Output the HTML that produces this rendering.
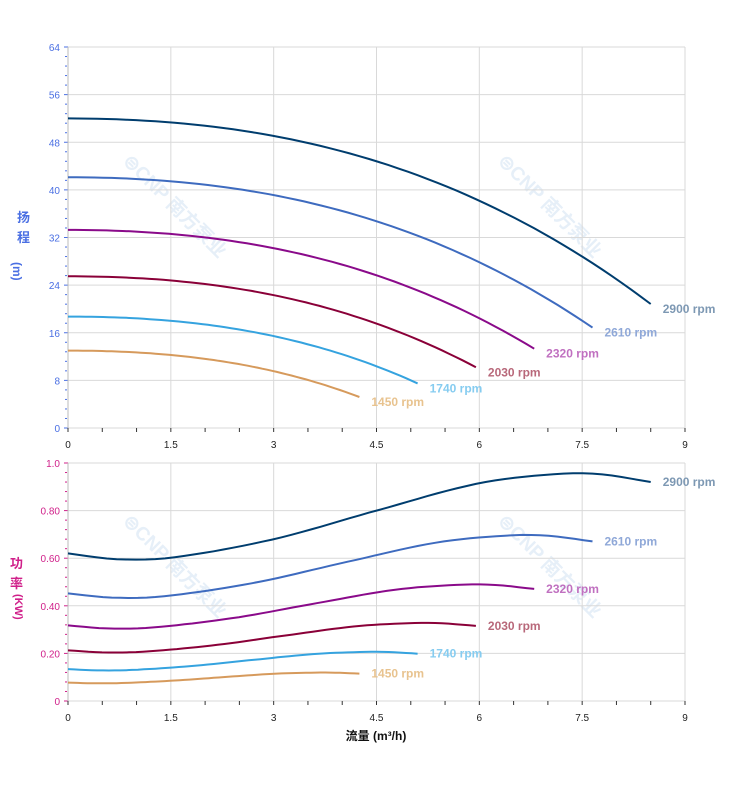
<!DOCTYPE html>
<html><head><meta charset="utf-8"><style>
html,body{margin:0;padding:0;background:#fff;width:752px;height:797px;overflow:hidden}
svg text{font-family:"Liberation Sans","Noto Sans CJK SC",sans-serif}
</style></head><body>
<svg id="s" width="752" height="797" xmlns="http://www.w3.org/2000/svg"></svg>
<script>
const s=document.getElementById('s');let h='';
const X0=68,X1=685,px=q=>X0+q*(X1-X0)/9;
const T0=428,T1=47,ty=v=>T0-v*(T0-T1)/64;
const B0=701,B1=463,by=v=>B0-v*(B0-B1)/1.0;
[[122,162],[497,162],[122,522],[497,522]].forEach(([x,y])=>{
h+=`<text x="${x}" y="${y}" transform="rotate(45 ${x} ${y})" font-size="19" font-weight="bold" fill="#e6eff8">⊜CNP 南方泵业</text>`;});
function grid(y0,y1,ys,yf,col,labs){
for(let i=0;i<=6;i++){let x=px(i*1.5);h+=`<line x1="${x}" y1="${y1}" x2="${x}" y2="${y0}" stroke="#d9d9d9"/>`;}
h+=`<line x1="${X1}" y1="${y1}" x2="${X1}" y2="${y0}" stroke="#d9d9d9"/>`;
ys.forEach((v,i)=>{let y=yf(v);h+=`<line x1="${X0}" y1="${y}" x2="${X1}" y2="${y}" stroke="#d9d9d9"/>`;
h+=`<line x1="${X0-4}" y1="${y}" x2="${X0}" y2="${y}" stroke="${col}"/>`;
h+=`<text x="${X0-8}" y="${y+4}" font-size="10" text-anchor="end" fill="${col}">${labs[i]}</text>`;
if(i<ys.length-1){let st=(ys[i+1]-v)/5;for(let k=1;k<5;k++){let yy=yf(v+st*k);h+=`<line x1="${X0-3}" y1="${yy}" x2="${X0-1}" y2="${yy}" stroke="${col}"/>`;}}});
h+=`<line x1="${X0}" y1="${y1}" x2="${X0}" y2="${y0}" stroke="#bbb"/>`;
for(let i=0;i<=18;i++){let x=px(i*0.5);h+=`<line x1="${x}" y1="${y0}" x2="${x}" y2="${y0+4}" stroke="#333"/>`;}
for(let i=0;i<=6;i++){let v=i*1.5;h+=`<text x="${px(v)}" y="${y0+20}" font-size="10" text-anchor="middle" fill="#222">${v}</text>`;}
}
grid(T0,T1,[0,8,16,24,32,40,48,56,64],ty,'#4a6fe3',[0,8,16,24,32,40,48,56,64]);
grid(B0,B1,[0,0.2,0.4,0.6,0.8,1.0],by,'#d0208a',['0','0.20','0.40','0.60','0.80','1.0']);
h+=`<text x="17" y="222" font-size="13" font-weight="bold" fill="#4a6fe3">扬</text><text x="17" y="242" font-size="13" font-weight="bold" fill="#4a6fe3">程</text><text x="17" y="266" font-size="12" font-weight="bold" fill="#4a6fe3" transform="rotate(90 17 262)">(m)</text>`;
h+=`<text x="10" y="568" font-size="13" font-weight="bold" fill="#d0208a">功</text><text x="10" y="588" font-size="13" font-weight="bold" fill="#d0208a">率</text><text x="11" y="598" font-size="11" font-weight="bold" fill="#d0208a" transform="rotate(90 15 598)">(KW)</text>`;
h+=`<text x="376" y="740" font-size="12" font-weight="bold" text-anchor="middle" fill="#111">流量 (m³/h)</text>`;
const H=q=>52-0.27*q*q-0.019*q*q*q;
const P=[[0,0.62],[0.7,0.596],[1.5,0.602],[3,0.68],[4.5,0.80],[6,0.915],[7.2,0.955],[7.8,0.952],[8.5,0.92]];
function Pf(q){for(let i=0;i<P.length-1;i++){if(q<=P[i+1][0]){let p0=P[Math.max(i-1,0)],p1=P[i],p2=P[i+1],p3=P[Math.min(i+2,P.length-1)];let t=(q-p1[0])/(p2[0]-p1[0]);
let m1=(p2[1]-p0[1])/(p2[0]-p0[0]||1)*(p2[0]-p1[0]),m2=(p3[1]-p1[1])/(p3[0]-p1[0]||1)*(p2[0]-p1[0]);
let t2=t*t,t3=t2*t;return (2*t3-3*t2+1)*p1[1]+(t3-2*t2+t)*m1+(-2*t3+3*t2)*p2[1]+(t3-t2)*m2;}}return P[P.length-1][1];}
const S=[[2900,'#003d6e','#7d98b3'],[2610,'#3e6bbf','#8fa8d8'],[2320,'#8a0a8a','#c070c0'],[2030,'#8a0038','#b8687a'],[1740,'#35a3df','#86ccf0'],[1450,'#d69a5c','#e8c38f']];
S.forEach(([n,c,lc])=>{let k=n/2900,qe=8.5*k;let a=[],b=[];
for(let i=0;i<=60;i++){let q=qe*i/60,q0=q/k;a.push(px(q).toFixed(1)+','+ty(H(q0)*k*k).toFixed(1));b.push(px(q).toFixed(1)+','+by(Pf(q0)*k*k*k).toFixed(1));}
h+=`<polyline points="${a.join(' ')}" fill="none" stroke="${c}" stroke-width="2"/>`;
h+=`<polyline points="${b.join(' ')}" fill="none" stroke="${c}" stroke-width="2"/>`;
let ex=px(qe);h+=`<text x="${ex+12}" y="${ty(H(8.5)*k*k)+9}" font-size="12" font-weight="bold" fill="${lc}">${n} rpm</text>`;
h+=`<text x="${ex+12}" y="${by(Pf(8.5)*k*k*k)+4}" font-size="12" font-weight="bold" fill="${lc}">${n} rpm</text>`;});
s.innerHTML=h;
</script>
</body></html>
